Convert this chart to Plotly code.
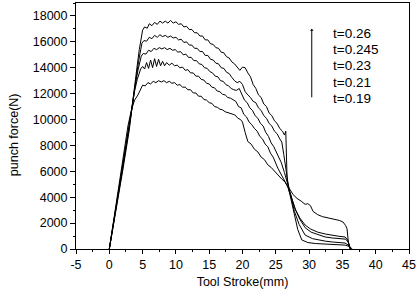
import plotly.graph_objects as go

# ---- data ----
labels = ["t=0.26", "t=0.245", "t=0.23", "t=0.21", "t=0.19"]

x_026 = [0, 1, 2, 3, 3.6, 4.0, 4.5, 5.0, 5.3, 5.7, 6.0, 6.4, 6.8, 7.2, 7.6, 8.0, 8.4, 8.8, 9.2, 9.6,
         10.0, 10.4, 10.8, 11.2, 11.6, 12.0, 12.4, 12.8, 13.2, 13.6, 14.0, 14.4, 14.8, 15.2, 15.6,
         16.0, 16.4, 16.8, 17.2, 17.6, 18.0, 18.4, 18.8, 19.2, 19.6, 20.0, 20.4, 20.8, 21.2, 21.6,
         22.0, 22.4, 22.8, 23.2, 23.6, 24.0, 24.4, 24.8, 25.2, 25.6, 26.0, 26.3, 26.5, 26.7, 27.0,
         27.6, 28.2, 28.8, 29.4, 29.8, 30.2, 30.6, 31.3, 32.0, 33.0, 33.9, 34.6, 35.1, 35.5, 35.7,
         35.9, 36.2]
y_026 = [0, 2900, 6000, 9200, 11500, 13400, 15400, 16900, 17150, 17050, 17400, 17250, 17500, 17350,
         17600, 17450, 17600, 17450, 17650, 17450, 17550, 17350, 17400, 17150, 17200, 16950, 16950,
         16700, 16700, 16450, 16450, 16150, 16150, 15850, 15800, 15550, 15500, 15200, 15150, 14850,
         14750, 14450, 14300, 14050, 13800, 14050, 14000, 13600, 13300, 12700, 12400, 11900, 11700,
         11200, 11000, 10500, 10300, 9900, 9700, 9300, 9100, 8800, 9100, 5300, 4700, 4200, 3900,
         3700, 3450, 3500, 3350, 2900, 2650, 2500, 2400, 2300, 2200, 2080, 1800, 1550, 500, 0]

x_0245 = [0, 1, 2, 3, 3.5, 3.9, 4.4, 4.9, 5.2, 5.6, 6.0, 6.4, 6.8, 7.2, 7.6, 8.0, 8.4, 8.8, 9.2, 9.6,
          10.0, 10.4, 10.8, 11.2, 11.6, 12.0, 12.4, 12.8, 13.2, 13.6, 14.0, 14.4, 14.8, 15.2, 15.6,
          16.0, 16.4, 16.8, 17.2, 17.6, 18.0, 18.4, 18.8, 19.2, 19.6, 20.0, 20.4, 20.8, 21.2, 21.6,
          22.0, 22.4, 22.8, 23.2, 23.6, 24.0, 24.4, 24.8, 25.2, 25.6, 25.9, 26.2, 26.6, 27.0, 27.4,
          28.0, 28.6, 29.4, 30.2, 31.3, 32.5, 33.5, 34.5, 35.4, 35.8, 36.2]
y_0245 = [0, 3000, 6200, 9400, 11200, 12900, 14500, 15900, 16100, 16050, 16350, 16250, 16500, 16350,
          16550, 16400, 16500, 16350, 16450, 16300, 16350, 16150, 16200, 15950, 16000, 15750, 15750,
          15500, 15500, 15250, 15250, 14950, 14950, 14650, 14600, 14350, 14300, 14000, 13950, 13650,
          13550, 13250, 13000, 12850, 12950, 12700, 12150, 11900, 11700, 11400, 11300, 10900, 10700,
          10300, 10100, 9700, 9500, 9100, 8900, 8500, 8260, 7300, 6000, 4500, 3900, 3000, 2400,
          1850, 1550, 1300, 1150, 1050, 980, 930, 700, 0]

x_023 = [0, 1, 2, 3, 3.4, 3.8, 4.3, 4.8, 5.1, 5.5, 5.9, 6.3, 6.7, 7.1, 7.5, 7.9, 8.3, 8.7, 9.1, 9.5,
         9.9, 10.3, 10.7, 11.1, 11.5, 11.9, 12.3, 12.7, 13.1, 13.5, 13.9, 14.3, 14.7, 15.1, 15.5,
         15.9, 16.3, 16.7, 17.1, 17.5, 17.9, 18.3, 18.7, 19.1, 19.5, 19.9, 20.3, 20.7, 21.1, 21.5,
         21.9, 22.3, 22.7, 23.1, 23.5, 23.9, 24.3, 24.7, 25.3, 25.8, 26.3, 26.8, 27.2, 27.8, 28.6,
         29.4, 30.3, 31.3, 32.4, 33.5, 34.5, 35.5, 35.9, 36.2]
y_023 = [0, 3100, 6400, 9600, 10900, 12400, 13800, 14900, 15100, 15050, 15350, 15250, 15500, 15400,
         15550, 15450, 15550, 15400, 15500, 15350, 15400, 15200, 15250, 15000, 15050, 14800, 14800,
         14550, 14550, 14300, 14250, 14000, 13950, 13700, 13600, 13350, 13300, 13000, 12950, 12700,
         12600, 12400, 12300, 12250, 12400, 11900, 11500, 11300, 10900, 10700, 10300, 10100, 9700,
         9500, 9000, 8700, 8200, 7900, 7260, 6700, 5900, 5000, 4300, 3200, 2300, 1650, 1300, 1100,
         930, 850, 800, 760, 500, 0]

x_021 = [0, 1, 2, 3, 3.5, 3.8, 4.2, 4.7, 5.0, 5.3, 5.6, 5.9, 6.2, 6.5, 6.8, 7.1, 7.4, 7.7, 8.0, 8.3,
         8.6, 9.0, 9.4, 9.8, 10.2, 10.6, 11.0, 11.4, 11.8, 12.2, 12.6, 13.0, 13.4, 13.8, 14.2, 14.6,
         15.0, 15.4, 15.8, 16.2, 16.6, 17.0, 17.4, 17.8, 18.2, 18.6, 19.0, 19.4, 19.8, 20.2, 20.6,
         21.0, 21.4, 21.8, 22.2, 22.6, 23.0, 23.4, 23.8, 24.2, 24.6, 25.3, 25.8, 26.3, 26.8, 27.2,
         27.8, 28.5, 29.4, 30.5, 31.5, 32.5, 33.5, 34.5, 35.4, 35.9, 36.2]
y_021 = [0, 3200, 6600, 9800, 11100, 12200, 13100, 13900, 14100, 13900, 14400, 13950, 14600, 14000,
         14700, 14100, 14650, 14150, 14500, 14150, 14400, 14200, 14350, 14150, 14200, 14000, 14050,
         13800, 13850, 13600, 13600, 13350, 13350, 13100, 13050, 12800, 12750, 12500, 12450, 12200,
         12150, 11950, 11900, 11700, 11650, 11500, 11400, 11000, 10900, 10400, 10200, 9800, 9600,
         9300, 9100, 8700, 8500, 8100, 7900, 7400, 7100, 6250, 5800, 5300, 4800, 4200, 2900, 1900,
         1080, 800, 680, 600, 540, 490, 460, 300, 0]

x_019 = [0, 1, 2, 2.8, 3.3, 3.8, 4.3, 4.7, 5.0, 5.4, 5.8, 6.2, 6.6, 7.0, 7.4, 7.8, 8.2, 8.6, 9.0, 9.4,
         9.8, 10.2, 10.6, 11.0, 11.4, 11.8, 12.2, 12.6, 13.0, 13.4, 13.8, 14.2, 14.6, 15.0, 15.4,
         15.8, 16.2, 16.6, 17.0, 17.4, 17.8, 18.2, 18.6, 18.9, 19.3, 19.7, 20.0, 20.4, 20.8, 21.3,
         21.8, 22.3, 22.8, 23.3, 23.8, 24.3, 24.9, 25.4, 25.9, 26.4, 26.9, 27.3, 27.8, 28.3, 28.9,
         29.8, 31.0, 32.5, 34.0, 35.4, 36.0, 36.5]
y_019 = [0, 3300, 6800, 9500, 10700, 11500, 11900, 12300, 12650, 12600, 12850, 12750, 12950, 12850,
         13000, 12900, 13000, 12850, 12950, 12800, 12850, 12650, 12700, 12500, 12500, 12300, 12300,
         12050, 12050, 11800, 11800, 11550, 11500, 11300, 11250, 11000, 10950, 10800, 10750, 10600,
         10550, 10450, 10400, 10340, 10100, 10000, 9800, 9000, 8300, 8100, 7700, 7500, 7100, 6900,
         6500, 6300, 5940, 5700, 5400, 5170, 4700, 3800, 2600, 1500, 700, 500, 420, 380, 340, 300,
         200, 0]

series_x = [x_026, x_0245, x_023, x_021, x_019]
series_y = [y_026, y_0245, y_023, y_021, y_019]

x_ticks = [-5, 0, 5, 10, 15, 20, 25, 30, 35, 40, 45]
y_ticks = [0, 2000, 4000, 6000, 8000, 10000, 12000, 14000, 16000, 18000]

FONT = "Liberation Sans, Arial, sans-serif"

fig = go.Figure()
for xs, ys, name in zip(series_x, series_y, labels):
    fig.add_trace(go.Scatter(x=xs, y=ys, mode="lines", name=name,
                             line=dict(color="black", width=1)))

fig.update_layout(
    width=419, height=296,
    margin=dict(l=76, r=10, t=3, b=47, autoexpand=False),
    paper_bgcolor="white", plot_bgcolor="white",
    showlegend=False,
    font=dict(family=FONT, size=12.5, color="black"),
)

fig.update_xaxes(
    automargin=False,
    range=[-5, 45], tickvals=x_ticks, ticktext=[str(v) for v in x_ticks],
    showgrid=False, zeroline=False,
    showline=True, linecolor="black", linewidth=1, mirror=True,
    ticks="outside", ticklen=4, tickcolor="black", tickwidth=1,
    minor=dict(dtick=2.5, ticks="outside", ticklen=2, tickcolor="black", showgrid=False),
    title=dict(text="Tool Stroke(mm)", font=dict(size=12.5), standoff=6),
    tickfont=dict(size=12.5),
)
fig.update_yaxes(
    automargin=False,
    range=[0, 19000], tickvals=y_ticks, ticktext=[str(v) for v in y_ticks],
    showgrid=False, zeroline=False,
    showline=True, linecolor="black", linewidth=1, mirror=True,
    ticks="outside", ticklen=5, tickcolor="black", tickwidth=1,
    minor=dict(dtick=1000, ticks="outside", ticklen=2, tickcolor="black", showgrid=False),
    tickfont=dict(size=12.5),
)

# y-axis title placed as annotation
fig.add_annotation(text="punch force(N)", xref="paper", yref="paper",
                   x=-0.186, y=0.463, xanchor="center", yanchor="middle",
                   textangle=-90, showarrow=False, font=dict(size=12.5))

# legend text block
for i, lab in enumerate(labels):
    fig.add_annotation(text=lab, xref="paper", yref="paper",
                       x=0.766, y=0.878 - i * 0.0665, xanchor="left", yanchor="middle",
                       showarrow=False, font=dict(size=13.5))

# upward arrow
fig.add_annotation(x=0.708, y=0.895, xref="paper", yref="paper",
                   ax=0, ay=70, axref="pixel", ayref="pixel",
                   showarrow=True, arrowhead=1, arrowsize=0.6, arrowwidth=1,
                   arrowcolor="black", text="")

fig.write_html(
    "out.html",
    config={"displayModeBar": False},
    post_script="document.body.style.margin='0';document.body.style.padding='0';"
                "document.documentElement.style.overflow='hidden';",
)
